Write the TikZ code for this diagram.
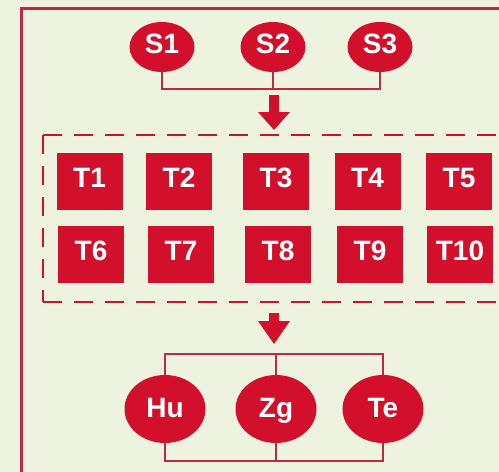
\documentclass[tikz,border=0pt]{standalone}
\usepackage{fontspec}
\setmainfont{Liberation Sans}
\usetikzlibrary{shapes.geometric,calc}
\definecolor{bg}{HTML}{EEF3E0}
\definecolor{rd}{HTML}{D3102C}
\definecolor{ln}{HTML}{BA2A40}
\begin{document}
\begin{tikzpicture}[x=1pt,y=-1pt,
  lbl/.style={text=white,font=\bfseries\fontsize{28}{28}\selectfont,text height=20pt,text depth=8pt},
  snode/.style={ellipse,fill=rd,draw=none,inner sep=0pt,minimum width=65pt,minimum height=50pt,lbl},
  bnode/.style={snode,minimum width=81pt,minimum height=68pt,text depth=4pt},
  tbox/.style={rectangle,fill=rd,draw=none,inner sep=0pt,minimum width=66pt,minimum height=57pt,lbl},
  conn/.style={draw=ln,line width=2pt},
  frame/.style={draw=ln,line width=3pt},
  dashbox/.style={draw=rd,line width=2.5pt,dash pattern=on 19pt off 12pt},
  bigarrow/.style={fill=rd,draw=none}]
\fill[bg] (0,0) rectangle (499,472);
\useasboundingbox (0,0) rectangle (499,472);
\begin{scope}
  \clip (0,0) rectangle (499,472);
  \draw[frame] (530,8) -- (21.5,8) -- (21.5,500);
  \draw[dashbox] (43,135) -- (530,135);
  \draw[dashbox] (43,135) -- (43,302);
  \draw[dashbox] (43,302) -- (530,302);
\end{scope}
% sources
\node[snode] (s1) at (162,47) {S1};
\node[snode] (s2) at (273,47) {S2};
\node[snode] (s3) at (380,47) {S3};
\coordinate (js) at (274,89);
\draw[conn] (s1.south) |- (js) -| (s3.south);
\draw[conn] (s2.south) -- (s2.south |- js);
% arrow 1
\coordinate (a1) at (274,95);
\fill[bigarrow] ($(a1)+(-5,0)$) -- ++(10,0) -- ++(0,17) -- ++(11,0) -- ($(a1)+(0,35)$) -- ($(a1)+(-16,17)$) -- ($(a1)+(-5,17)$) -- cycle;
% T boxes
\node[tbox] (t1) at (89.5,181.5) {T1};
\node[tbox] (t2) at (179,181.5) {T2};
\node[tbox] (t3) at (276,181.5) {T3};
\node[tbox] (t4) at (367.5,181.5) {T4};
\node[tbox] (t5) at (459,181) {T5};
\node[tbox] (t6) at (91,254) {T6};
\node[tbox] (t7) at (181,254) {T7};
\node[tbox] (t8) at (278,254) {T8};
\node[tbox] (t9) at (370,254) {T9};
\node[tbox] (t10) at (460,254) {T10};
% arrow 2
\coordinate (a2) at (274,313);
\fill[bigarrow] ($(a2)+(-5,0)$) -- ++(10,0) -- ++(0,8) -- ++(11,0) -- ($(a2)+(0,31)$) -- ($(a2)+(-16,8)$) -- ($(a2)+(-5,8)$) -- cycle;
% outputs
\node[bnode] (hu) at (165,409) {Hu};
\node[bnode] (zg) at (276,409) {Zg};
\node[bnode] (te) at (383,409) {Te};
\coordinate (jt) at (275,354);
\coordinate (jb) at (276,461);
\draw[conn] (hu.north) |- (jt) -| (te.north);
\draw[conn] (zg.north) -- (zg.north |- jt);
\draw[conn] (hu.south) |- (jb) -| (te.south);
\draw[conn] (zg.south) -- (zg.south |- jb);
\end{tikzpicture}
\end{document}
